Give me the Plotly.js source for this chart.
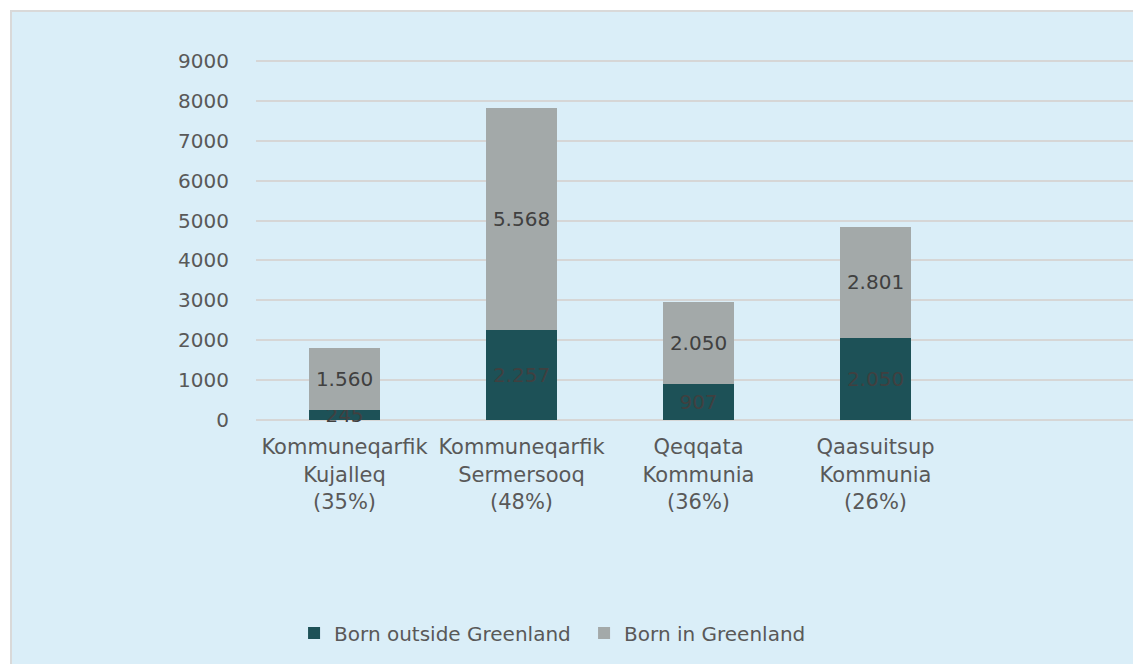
<!DOCTYPE html>
<html>
<head>
<meta charset="utf-8">
<script src="https://cdn.plot.ly/plotly-3.0.1.min.js"></script>
<style>
html,body{margin:0;padding:0;width:1133px;height:664px;overflow:hidden;background:#ffffff;}
#frame{position:absolute;left:10px;top:10px;width:1160px;height:700px;border:2px solid #d9d9d9;background:#daeef8;box-sizing:border-box;}
#chart{position:absolute;left:0;top:0;width:1150px;height:680px;}
</style>
</head>
<body>
<div id="frame"></div>
<div id="chart"></div>
<script>
var categories = [
  "Kommuneqarfik<br>Kujalleq<br>(35%)",
  "Kommuneqarfik<br>Sermersooq<br>(48%)",
  "Qeqqata<br>Kommunia<br>(36%)",
  "Qaasuitsup<br>Kommunia<br>(26%)"
];
var bornOutside = [245, 2257, 907, 2050];
var bornIn = [1560, 5568, 2050, 2801];
var yTicks = [0, 1000, 2000, 3000, 4000, 5000, 6000, 7000, 8000, 9000];

var font = "DejaVu Sans, Verdana, sans-serif";

var traces = [
  {
    type: "bar", name: "Born outside Greenland", x: categories, y: bornOutside,
    marker: {color: "#1d5157"}, width: 0.4,
    texttemplate: "%{y:,}", textposition: "inside", insidetextanchor: "middle",
    constraintext: "none", textangle: 0, cliponaxis: false,
    insidetextfont: {family: font, size: 20, color: "#404040"},
    hoverinfo: "skip"
  },
  {
    type: "bar", name: "Born in Greenland", x: categories, y: bornIn,
    marker: {color: "#a3a9a9"}, width: 0.4,
    texttemplate: "%{y:,}", textposition: "inside", insidetextanchor: "middle",
    constraintext: "none", textangle: 0, cliponaxis: false,
    insidetextfont: {family: font, size: 20, color: "#404040"},
    hoverinfo: "skip"
  }
];

var layout = {
  width: 1150, height: 680,
  barmode: "stack",
  separators: ",.",
  paper_bgcolor: "rgba(0,0,0,0)",
  plot_bgcolor: "rgba(0,0,0,0)",
  margin: {l: 256, r: 9, t: 59, b: 260, pad: 0},
  font: {family: font, size: 20, color: "#595959"},
  showlegend: true,
  xaxis: {
    type: "category", range: [-0.5, 4.5], showgrid: false, zeroline: false,
    showline: false, ticks: "outside", ticklen: 8, tickcolor: "rgba(0,0,0,0)",
    tickfont: {family: font, size: 21, color: "#595959"}
  },
  yaxis: {
    range: [0, 9050], tickvals: yTicks, ticktext: yTicks.map(String),
    showgrid: true, gridcolor: "#d6d6d6", gridwidth: 2,
    zeroline: true, zerolinecolor: "#d6d6d6", zerolinewidth: 2,
    showline: false, ticks: "outside", ticklen: 22, tickcolor: "rgba(0,0,0,0)",
    tickfont: {family: font, size: 20, color: "#595959"}
  },
  legend: {
    orientation: "h", x: 0.043, xanchor: "left", y: -0.59, yanchor: "middle",
    bgcolor: "rgba(0,0,0,0)", font: {family: font, size: 20, color: "#595959"},
    itemwidth: 30, traceorder: "normal", entrywidth: 245
  }
};

Plotly.newPlot("chart", traces, layout, {displayModeBar: false, staticPlot: true});
</script>
</body>
</html>
